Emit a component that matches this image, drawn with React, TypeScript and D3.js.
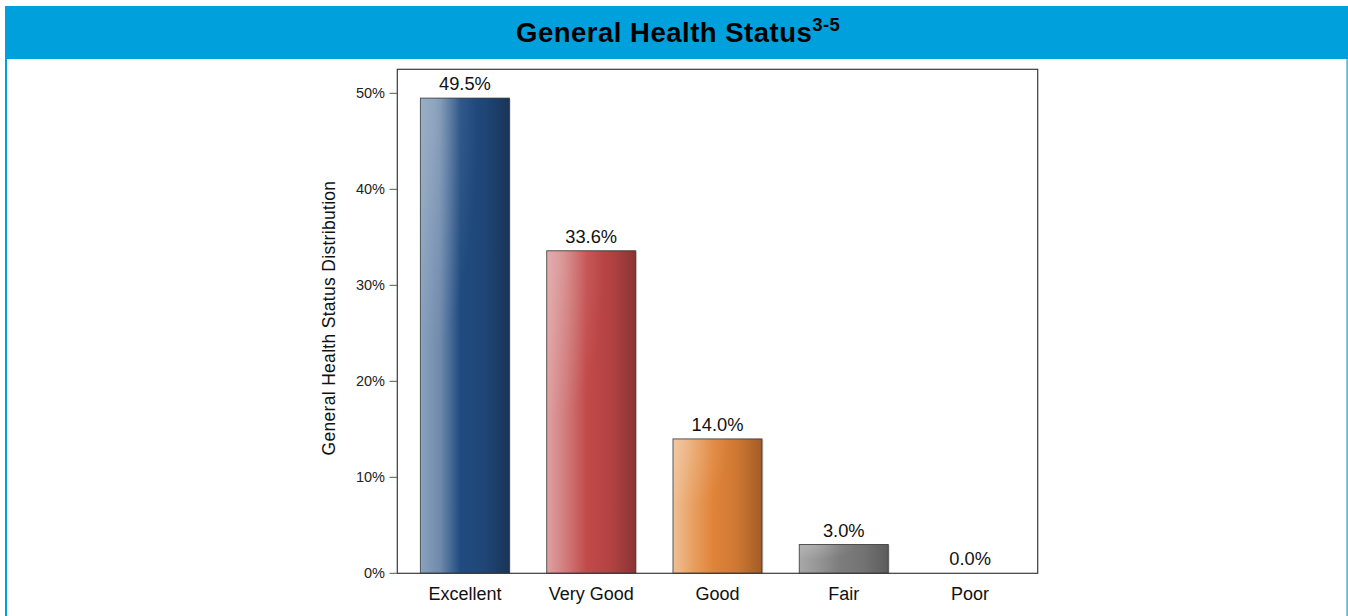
import React from "react";
import * as d3 from "d3";

const categories = ["Excellent", "Very Good", "Good", "Fair", "Poor"];
const values = [49.5, 33.6, 14.0, 3.0, 0.0];
const yTicks = [0, 10, 20, 30, 40, 50];
const barColors = [
  ["#8aa2bf", "#6f8aac", "#204b80", "#1f4677", "#1a3457"],
  ["#e0a2a2", "#d07a7a", "#c24a4a", "#b34242", "#8a3434"],
  ["#efc096", "#e8a062", "#e0843a", "#cf7732", "#a25c26"],
  ["#a8a8a8", "#959595", "#7d7d7d", "#737373", "#5c5c5c"],
  ["#cccccc", "#bbbbbb", "#aaaaaa", "#999999", "#888888"],
];

const W = 1348;
const H = 616;
const plot = { left: 397.3, right: 1037.7, top: 69.3, bottom: 573.3 };
const FONT = "'Liberation Sans', Arial, sans-serif";

export default function App() {
  const x = d3
    .scaleBand<string>()
    .domain(categories)
    .range([plot.left, plot.right])
    .paddingInner(0.295)
    .paddingOuter(0.183);
  const y = d3.scaleLinear().domain([0, 52.5]).range([plot.bottom, plot.top]);

  return (
    <svg
      width={W}
      height={H}
      style={{ position: "absolute", left: 0, top: 0, display: "block" }}
      fontFamily={FONT}
    >
      <defs>
        {categories.map((c, i) => (
          <linearGradient key={c} id={`g${i}`} x1="0" x2="1" y1="0" y2="0">
            <stop offset="0%" stopColor={barColors[i][0]} />
            <stop offset="22%" stopColor={barColors[i][1]} />
            <stop offset="45%" stopColor={barColors[i][2]} />
            <stop offset="72%" stopColor={barColors[i][3]} />
            <stop offset="100%" stopColor={barColors[i][4]} />
          </linearGradient>
        ))}
        <radialGradient id="hl" cx="0.15" cy="0.02" r="0.5" fx="0.15" fy="0.02">
          <stop offset="0%" stopColor="#ffffff" stopOpacity="0.18" />
          <stop offset="100%" stopColor="#ffffff" stopOpacity="0" />
        </radialGradient>
      </defs>
      <rect x={0} y={0} width={W} height={H} fill="#ffffff" />
      {/* header */}
      <rect x={5} y={6} width={W - 5} height={53} fill="#00a0dc" />
      <rect x={5} y={59} width={2} height={H - 59} fill="#00a0dc" />
      <rect x={1346.5} y={59} width={1.2} height={H - 59} fill="#1a9ac8" />
      <text x={678} y={42} textAnchor="middle" fontSize={27.5} fontWeight="bold" letterSpacing={0.5} fill="#000">
        General Health Status
        <tspan fontSize={18.5} dy={-11} letterSpacing={0.3}>3-5</tspan>
      </text>

      {/* bars */}
      {categories.map((c, i) => {
        const bx = x(c)!;
        const bw = x.bandwidth();
        const by = y(values[i]);
        const bh = plot.bottom - by;
        if (bh <= 0) return null;
        return (
          <g key={c}>
            <rect x={bx + 1.5} y={by + 1} width={bw} height={bh - 1} fill="#000" opacity={0.12} />
            <rect x={bx} y={by} width={bw} height={bh} fill={`url(#g${i})`} />
            <rect x={bx} y={by} width={bw} height={bh} fill="url(#hl)" />
            <rect
              x={bx}
              y={by}
              width={bw}
              height={bh}
              fill="none"
              stroke="#2a2a2a"
              strokeOpacity={0.75}
              strokeWidth={1}
            />
          </g>
        );
      })}

      {/* plot frame */}
      <rect
        x={plot.left}
        y={plot.top}
        width={plot.right - plot.left}
        height={plot.bottom - plot.top}
        fill="none"
        stroke="#3a3a3a"
        strokeWidth={1.2}
      />

      {/* y axis ticks */}
      {yTicks.map((t) => (
        <g key={t}>
          <line x1={389.5} x2={plot.left} y1={y(t)} y2={y(t)} stroke="#555" strokeWidth={1} />
          <text x={385} y={y(t) + 5} textAnchor="end" fontSize={14.5} fill="#222">
            {`${t}%`}
          </text>
        </g>
      ))}

      {/* y axis title */}
      <text
        transform={`translate(334.5, 318) rotate(-90)`}
        textAnchor="middle"
        fontSize={17.5}
        letterSpacing={0.3}
        fill="#111"
      >
        General Health Status Distribution
      </text>

      {/* value labels */}
      {categories.map((c, i) => (
        <text
          key={c}
          x={x(c)! + x.bandwidth() / 2}
          y={y(values[i]) - 8}
          textAnchor="middle"
          fontSize={18.3}
          fill="#111"
        >
          {`${values[i].toFixed(1)}%`}
        </text>
      ))}

      {/* category labels */}
      {categories.map((c) => (
        <text
          key={c}
          x={x(c)! + x.bandwidth() / 2}
          y={600}
          textAnchor="middle"
          fontSize={18}
          fill="#111"
        >
          {c}
        </text>
      ))}
    </svg>
  );
}
